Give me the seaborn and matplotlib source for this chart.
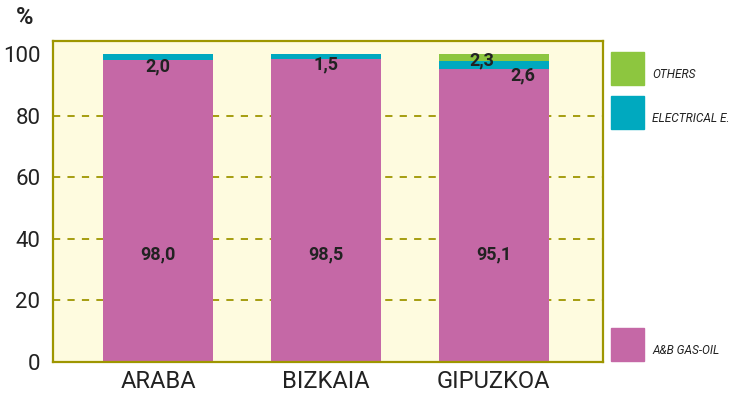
import matplotlib
matplotlib.use("Agg")
import matplotlib.pyplot as plt
import seaborn as sns
import pandas as pd
from matplotlib.font_manager import fontManager

regions = ["ARABA", "BIZKAIA", "GIPUZKOA"]
gas_oil = [98.0, 98.5, 95.1]
electrical = [2.0, 1.5, 2.6]
others = [0.0, 0.0, 2.3]
series_names = ["A&B GAS-OIL", "ELECTRICAL E.", "OTHERS"]
y_ticks = [0, 20, 40, 60, 80, 100]

colors = {"A&B GAS-OIL": "#C568A6", "ELECTRICAL E.": "#00A9BF", "OTHERS": "#8DC63F"}
olive = "#9E9600"

sns.set_theme(style="white")
names = {f.name for f in fontManager.ttflist}
family = ["Liberation Sans Narrow", "DejaVu Sans"] if "Liberation Sans Narrow" in names else ["Roboto", "DejaVu Sans"]
plt.rcParams["font.family"] = family

df = pd.DataFrame({"region": regions, "A&B GAS-OIL": gas_oil,
                   "ELECTRICAL E.": electrical, "OTHERS": others})
df["base_el"] = df["A&B GAS-OIL"]
df["base_ot"] = df["A&B GAS-OIL"] + df["ELECTRICAL E."]

fig = plt.figure(figsize=(7.34, 4.01), dpi=100)
ax = fig.add_axes([53 / 734, 1 - 362 / 401, (603 - 53) / 734, (362 - 41) / 401])
ax.set_facecolor("#FEFBDF")

# gridlines behind bars
for v in y_ticks[1:-1]:
    ax.axhline(v, color=olive, lw=1.3, ls=(0, (4, 4)), zorder=0)

width = 0.655
sns.barplot(data=df, x="region", y="A&B GAS-OIL", color=colors["A&B GAS-OIL"],
            width=width, ax=ax, saturation=1, linewidth=0, zorder=2)
ax.bar(range(len(regions)), df["ELECTRICAL E."], bottom=df["base_el"], width=width,
       color=colors["ELECTRICAL E."], linewidth=0, zorder=2)
ax.bar(range(len(regions)), df["OTHERS"], bottom=df["base_ot"], width=width,
       color=colors["OTHERS"], linewidth=0, zorder=2)

ax.set_xlim(-0.625, 2.65)
ax.set_ylim(0, 104.2)
ax.set_yticks(y_ticks)
ax.set_xlabel("")
ax.set_ylabel("")
ax.tick_params(axis="y", labelsize=16, colors="#222222", length=3, width=1.3, pad=6)
ax.tick_params(axis="y", color=olive)
ax.tick_params(axis="x", labelsize=17, labelcolor="#222222", length=0, pad=6)
for s in ax.spines.values():
    s.set_color(olive)
    s.set_linewidth(1.6)

def fmt(v):
    return f"{v:.1f}".replace(".", ",")

lab = dict(fontsize=13, fontweight="bold", color="#222222", ha="center", va="center", zorder=4)
for i in range(len(regions)):
    ax.text(i, 35, fmt(gas_oil[i]), **lab)
    if others[i] > 0:
        ax.text(i - 0.07, df["base_ot"][i] + 0.3, fmt(others[i]), **lab)
        ax.text(i + 0.17, df["base_el"][i] - 2.2, fmt(electrical[i]), **lab)
    else:
        ax.text(i, df["base_el"][i] - 2.0, fmt(electrical[i]), **lab)

fig.text(25 / 734, 1 - 18 / 401, "%", fontsize=17, fontweight="bold",
         color="#222222", ha="center", va="center")

# legend boxes placed to the right of the plot
legend_rows = [("OTHERS", 52), ("ELECTRICAL E.", 96), ("A&B GAS-OIL", 328)]
for name, top in legend_rows:
    fig.patches.append(plt.Rectangle((611 / 734, 1 - (top + 33) / 401), 33 / 734, 33 / 401,
                                     transform=fig.transFigure, color=colors[name]))
    fig.text(652 / 734, 1 - (top + 23) / 401, name, fontsize=8.6, fontstyle="italic",
             color="#222222", ha="left", va="center")

fig.savefig("out.png", dpi=100)
